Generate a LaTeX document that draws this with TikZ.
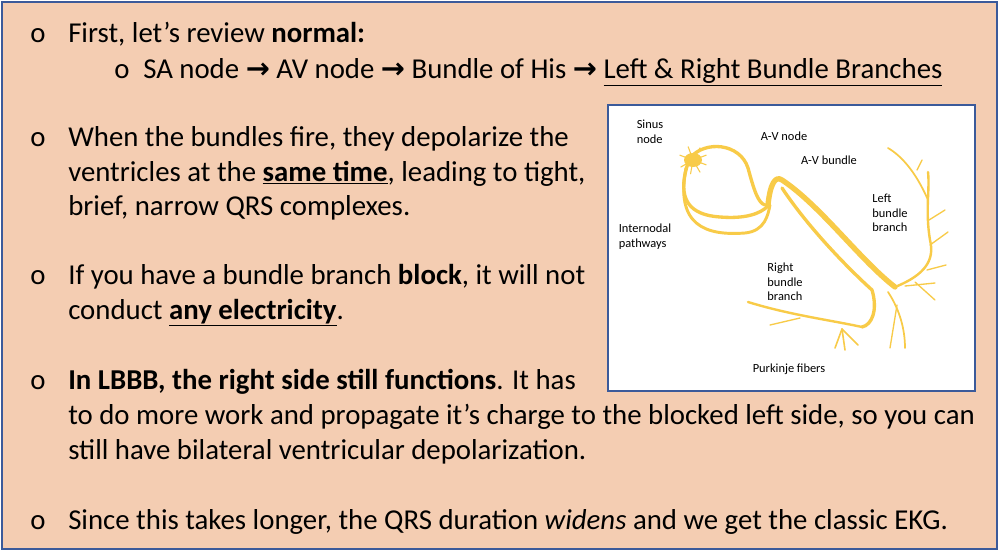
\documentclass[tikz,border=0pt]{standalone}
\usepackage{fontspec}
\setmainfont{Carlito}
\newfontfamily\arrowfont{DejaVu Sans}
\definecolor{bgc}{HTML}{F4CDB2}
\definecolor{frame}{HTML}{3B5A9A}
\definecolor{fib}{HTML}{F8CB48}
\begin{document}
\begin{tikzpicture}[x=0.75pt,y=-0.75pt,
  txt/.style={anchor=base west,font=\fontsize{21.6}{26}\selectfont,inner sep=0pt},
  lbl/.style={font=\fontsize{9.3}{11}\selectfont,align=left,inner sep=0pt},
  fb/.style={draw=fib,line cap=round,line join=round},
  bul/.style={anchor=base,font=\fontsize{21.6}{26}\selectfont,inner sep=0pt}]
\useasboundingbox (0,0) rectangle (1000,554);
\draw[fill=bgc,draw=frame,line width=1.5pt] (2,2) rectangle (997,549);
\newcommand{\arr}{{\arrowfont\bfseries →}}
% bullets
\foreach \y/\n in {42/b1,146/b2,284/b3,389/b4,529/b5}{\node[bul] (\n) at (38,\y) {o};}
\node[bul] (b1a) at (122,78) {o};
\node[txt] (t1) at (68,42) {First, let’s review \textbf{normal:}};
\node[txt] (t1a) at (143,78) {SA node \arr{} AV node \arr{} Bundle of His \arr{} \underline{Left \& Right Bundle Branches}};
\node[txt] (t2a) at (68,146) {When the bundles fire, they depolarize the};
\node[txt] (t2b) at (68,181) {ventricles at the \textbf{\underline{same time}}, leading to tight,};
\node[txt] (t2c) at (68,215) {brief, narrow QRS complexes.};
\node[txt] (t3a) at (68,284) {If you have a bundle branch \textbf{block}, it will not};
\node[txt] (t3b) at (68,319) {conduct \textbf{\underline{any electricity}}.};
\node[txt] (t4a) at (68,389) {\textbf{In LBBB, the right side still functions}. It has};
\node[txt] (t4b) at (68,424) {to do more work and propagate it’s charge to the blocked left side, so you can};
\node[txt] (t4c) at (68,459) {still have bilateral ventricular depolarization.};
\node[txt] (t5) at (68,529) {Since this takes longer, the QRS duration \textit{widens} and we get the classic EKG.};
% picture
\draw[fill=white,draw=frame,line width=1.5pt] (608,105) rectangle (975,391);
% internodal loop
\draw[fb,line width=2.5pt] (690,158) .. controls (705,140) and (740,143) .. (748,168) .. controls (754,190) and (758,203) .. (765,205);
\draw[fb,line width=2.5pt] (688,163) .. controls (676,200) and (690,215) .. (720,217) .. controls (745,219) and (760,214) .. (768,206);
\draw[fb,line width=2.2pt] (686,168) .. controls (675,225) and (705,236) .. (745,233) .. controls (765,231) and (768,215) .. (770,205);
\fill[fib] (693,160) ellipse (9 and 7);
\foreach \a in {20,60,100,150,200,250,300,340}{\draw[fb,line width=0.8pt] (693,160) -- ++(\a:14);}
% AV hump and bundle
\draw[fb,line width=4pt] (768,205) .. controls (770,185) and (775,175) .. (782,180) .. controls (820,205) and (860,260) .. (895,287);
\draw[fb,line width=2.5pt] (782,188) .. controls (810,230) and (850,270) .. (872,290) .. controls (878,310) and (872,325) .. (862,327);
% right branch bottom
\draw[fb,line width=1.8pt] (862,327) .. controls (830,320) and (790,315) .. (748,302);
\foreach \e in {(835,348),(845,350),(858,345)}{\draw[fb,line width=1.2pt] (842,329) -- \e;}
\draw[fb,line width=1pt] (800,318) -- (770,325);
% left branch
\draw[fb,line width=1.8pt] (895,287) .. controls (925,275) and (935,260) .. (930,240) .. controls (925,210) and (930,190) .. (928,172);
\draw[fb,line width=1.3pt] (928,200) .. controls (915,170) and (900,155) .. (888,148);
\foreach \s/\e in {{(930,245)}/{(948,232)},{(929,220)}/{(945,210)},{(927,270)}/{(946,265)},{(915,282)}/{(935,300)},{(905,286)}/{(935,283)},{(917,170)}/{(922,160)}}{\draw[fb,line width=1pt] \s -- \e;}
\draw[fb,line width=1.3pt] (888,292) .. controls (900,310) and (905,330) .. (905,348);
\draw[fb,line width=1pt] (897,305) -- (890,348);
% labels
\node[lbl] (l1) at (650,132) {Sinus\\node};
\node[lbl] (l2) at (784,136) {A-V node};
\node[lbl] (l3) at (829,160) {A-V bundle};
\node[lbl] (l4) at (890,213) {Left\\bundle\\branch};
\node[lbl] (l5) at (645,237) {Internodal\\pathways};
\node[lbl] (l6) at (785,282) {Right\\bundle\\branch};
\node[lbl] (l7) at (789,369) {Purkinje fibers};
\end{tikzpicture}
\end{document}
